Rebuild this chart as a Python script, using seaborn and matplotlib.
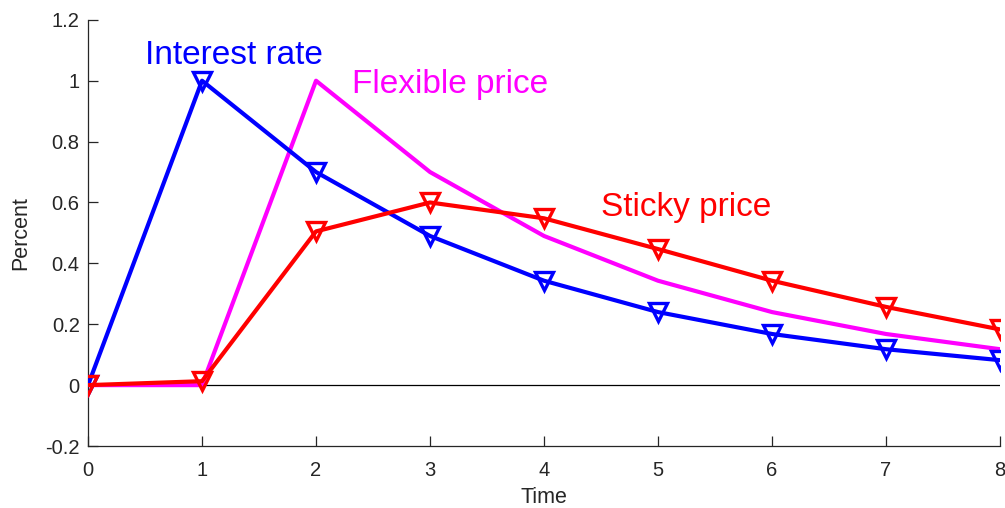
import seaborn as sns
import matplotlib.pyplot as plt
import pandas as pd

time = [0, 1, 2, 3, 4, 5, 6, 7, 8]
interest_rate = [0, 1.0, 0.7, 0.49, 0.343, 0.24, 0.168, 0.118, 0.082]
flexible_price = [0, 0, 1.0, 0.7, 0.49, 0.343, 0.24, 0.168, 0.118]
sticky_price = [0, 0.013, 0.505, 0.6, 0.548, 0.447, 0.343, 0.257, 0.183]

sns.set_style('white')
plt.rcParams['font.family'] = ['Liberation Sans', 'DejaVu Sans']

fig = plt.figure(figsize=(10.05, 5.08), dpi=100)
ax = fig.add_axes([0.0876, 0.122, 0.9074, 0.839])

grey = '#262626'
ax.axhline(0, color='black', lw=0.9, zorder=1)

sns.lineplot(x=time, y=interest_rate, ax=ax, color='#0000ff', lw=3,
             marker='v', markersize=13, fillstyle='none', mew=2.4, mec='#0000ff', zorder=3)
sns.lineplot(x=time, y=flexible_price, ax=ax, color='#ff00ff', lw=3, zorder=2)
sns.lineplot(x=time, y=sticky_price, ax=ax, color='#ff0000', lw=3,
             marker='v', markersize=13, fillstyle='none', mew=2.4, mec='#ff0000', zorder=4)

ax.text(0.5, 1.055, 'Interest rate', color='#0000ff', fontsize=24)
ax.text(2.32, 0.96, 'Flexible price', color='#ff00ff', fontsize=24)
ax.text(4.5, 0.556, 'Sticky price', color='#ff0000', fontsize=24)

ax.set_xlim(0, 8)
ax.set_ylim(-0.2, 1.2)
ax.set_xticks(time)
ax.set_yticks([-0.2, 0, 0.2, 0.4, 0.6, 0.8, 1.0, 1.2])
ax.set_yticklabels(['-0.2', '0', '0.2', '0.4', '0.6', '0.8', '1', '1.2'])
ax.set_xlabel('Time', fontsize=15.5, color=grey, labelpad=5)
ax.set_ylabel('Percent', fontsize=15.5, color=grey, labelpad=10)

for side in ['top', 'right']:
    ax.spines[side].set_visible(False)
for side in ['left', 'bottom']:
    ax.spines[side].set_color(grey)
    ax.spines[side].set_linewidth(0.9)
ax.tick_params(direction='in', length=7, width=0.9, colors=grey, labelsize=14.5,
               left=True, bottom=True, pad=6)
ax.tick_params(axis='x', pad=11)

fig.savefig('out.png', dpi=100)
